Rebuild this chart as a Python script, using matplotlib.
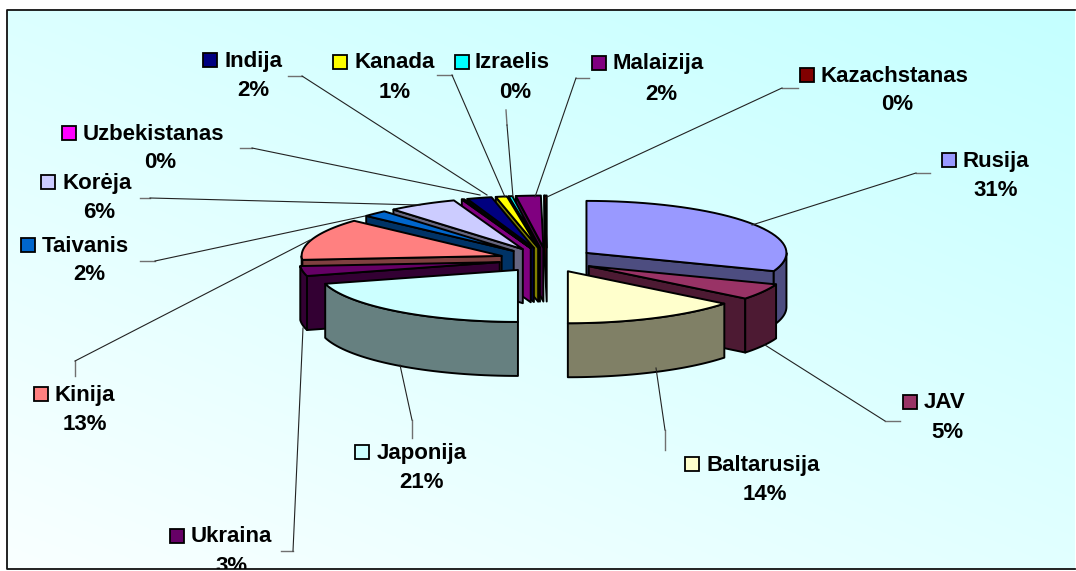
#!/usr/bin/env python3

import numpy as np
import matplotlib
matplotlib.use('Agg')
import matplotlib.pyplot as plt
from matplotlib.patches import Polygon, Rectangle

plt.rcParams['font.family'] = ['Liberation Sans', 'DejaVu Sans']

# data
names = ['Rusija', 'JAV', 'Baltarusija', 'Japonija', 'Ukraina', 'Kinija', 'Taivanis',
         'Korėja', 'Uzbekistanas', 'Indija', 'Kanada', 'Izraelis', 'Malaizija', 'Kazachstanas']
values = [30.7, 5, 14.3, 20.7, 3.1, 13, 2, 5.6, 0.2, 2, 0.9, 0.3, 2, 0.2]

colors = ['#9999FF', '#993366', '#FFFFCC', '#CCFFFF', '#660066', '#FF8080', '#0066CC',
          '#CCCCFF', '#FF00FF', '#000080', '#FFFF00', '#00FFFF', '#800080', '#800000']

# label layout in pixels: key x, name y, name x, percent centre x, percent y
key_x = [942, 903, 685, 355, 170, 34, 21, 41, 62, 203, 333, 455, 592, 800]
name_y = [160, 402, 464, 452, 536, 394, 245, 182, 133, 60, 62, 62, 63, 75]
name_x = [963, 924, 706, 377, 191, 55, 42, 63, 83, 224, 354, 474, 613, 820]
pct_x = [996, 947, 765, 422, 232, 85, 89, 99, 160, 253, 395, 515, 661, 897]
pct_y = [190, 431, 493, 481, 565, 424, 274, 211, 162, 89, 91, 91, 93, 104]

# leader lines, pixels
leaders = [
    [(930, 173), (916, 173), (752, 225)],
    [(900, 421), (885, 421), (765, 345)],
    [(665, 450), (665, 430), (656, 368)],
    [(412, 438), (412, 420), (400, 365)],
    [(281, 551), (293, 551), (303, 328)],
    [(75, 376), (75, 361), (310, 240)],
    [(140, 261), (155, 261), (365, 216)],
    [(140, 198), (150, 198), (420, 205)],
    [(240, 148), (252, 148), (480, 195)],
    [(288, 76), (302, 76), (487, 195)],
    [(437, 75), (452, 75), (505, 197)],
    [(506, 110), (507, 125), (513, 197)],
    [(589, 78), (576, 78), (535, 197)],
    [(798, 88), (782, 88), (547, 197)],
]

# pie geometry, pixels
cx, cy = 547, 260
rx, ry = 200, 52
depth = 54
explode = 0.24

W, H = 1076, 571
fig = plt.figure(figsize=(W / 100, H / 100), dpi=100)
ax = fig.add_axes([0, 0, 1, 1])

# background gradient, strongest cyan top right, white bottom left
gy, gx = np.mgrid[0:1:200j, 0:1:200j]
amount = np.clip(1 - (1 - gx) * 0.4 - gy * 0.5, 0, 1)
cyan = np.array([0.77, 1.0, 1.0])
img = 1 + (cyan - 1) * amount[..., None]
ax.imshow(img, extent=(7, 1075, 569, 10), aspect='auto', zorder=0)
ax.set_xlim(0, W)
ax.set_ylim(H, 0)
ax.axis('off')

# frame has no right side
ax.plot([1075, 7, 7, 1075], [10, 10, 569, 569], color='#111111', lw=1.3, zorder=20)


def point(c, t, dz=0):
    return (c[0] + rx * np.sin(t), c[1] - ry * np.cos(t) + dz)


def shade(col):
    return tuple(v * 0.5 for v in matplotlib.colors.to_rgb(col))


def draw_slice(a0, a1, col, z):
    mid = (a0 + a1) / 2
    c = (cx + explode * rx * np.sin(mid), cy - explode * ry * np.cos(mid))
    dark = shade(col)
    kw = dict(edgecolor='black', lw=1.4, joinstyle='round', zorder=z)

    # cut faces
    for a, n in ((a0, a0 - np.pi / 2), (a1, a1 + np.pi / 2)):
        if -np.cos(n) > 1e-6:
            p = point(c, a)
            ax.add_patch(Polygon([c, p, (p[0], p[1] + depth), (c[0], c[1] + depth)],
                                 facecolor=dark, **kw))

    # outer wall, only the part that faces the front
    w0, w1 = max(a0, np.pi / 2), min(a1, 3 * np.pi / 2)
    if w1 > w0:
        ts = np.linspace(w0, w1, 40)
        wall = [point(c, t) for t in ts] + [point(c, t, depth) for t in ts[::-1]]
        ax.add_patch(Polygon(wall, facecolor=dark, **kw))

    # top face
    ts = np.linspace(a0, a1, 40)
    ax.add_patch(Polygon([c] + [point(c, t) for t in ts], facecolor=col, **kw))


vals = np.array(values, dtype=float)
ends = np.cumsum(vals) / vals.sum() * 2 * np.pi
starts = np.r_[0, ends[:-1]]
mids = (starts + ends) / 2
order = np.argsort(-np.cos(mids))
for k, i in enumerate(order):
    draw_slice(starts[i], ends[i], colors[i], 5 + k)

for pts in leaders:
    xs, ys = zip(*pts)
    ax.plot(xs[:2], ys[:2], color='#707070', lw=1.0, zorder=30)
    ax.plot(xs[1:], ys[1:], color='#222222', lw=0.8, zorder=30)

clip_box = Rectangle((7, 10), 1068, 559, transform=ax.transData)
for i, name in enumerate(names):
    ax.add_patch(Rectangle((key_x[i], name_y[i] - 7), 14, 14, facecolor=colors[i],
                           edgecolor='black', lw=1.3, zorder=31))
    ax.text(name_x[i], name_y[i] + 1, name, fontsize=16, fontweight='bold', va='center',
            ha='left', color='black', zorder=32)
    t = ax.text(pct_x[i], pct_y[i] + 1, '%d%%' % round(vals[i] / vals.sum() * 100), fontsize=16,
                fontweight='bold', va='center', ha='center', color='black', zorder=32)
    t.set_clip_path(clip_box)
    t.set_clip_on(True)

fig.savefig('out.png', dpi=100)
